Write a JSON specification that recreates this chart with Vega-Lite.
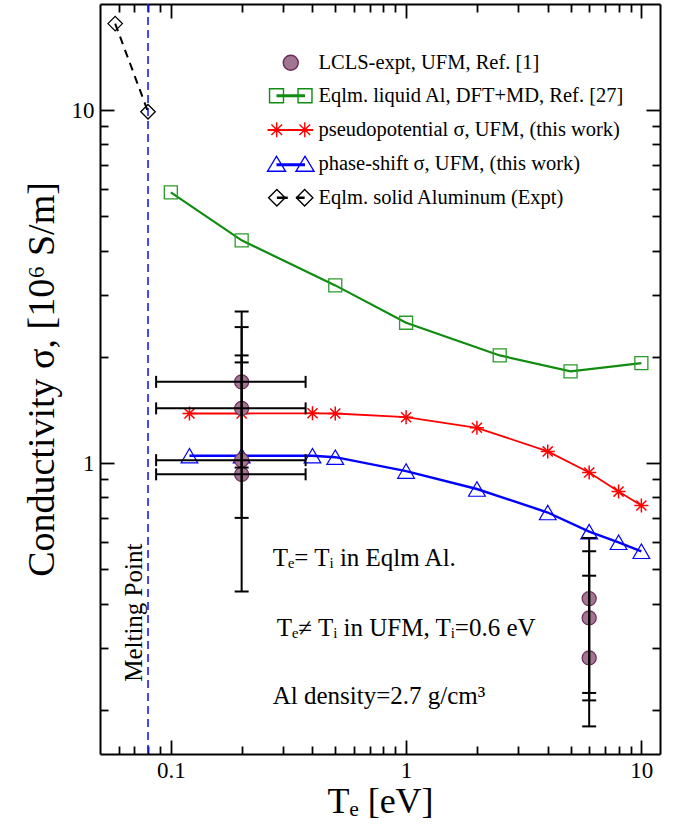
{
  "$schema": "https://vega.github.io/schema/vega-lite/v6.json",
  "width": 560,
  "height": 750,
  "autosize": {"type": "none"},
  "padding": {"left": 100, "top": 4, "right": 29, "bottom": 76},
  "background": "white",
  "config": {
    "view": {"stroke": null},
    "font": "Liberation Serif",
    "axis": {
      "grid": false,
      "domainColor": "black",
      "domainWidth": 2,
      "tickColor": "black",
      "tickWidth": 1.8,
      "labelFont": "Liberation Serif",
      "labelFontSize": 23,
      "labelColor": "black",
      "titleFont": "Liberation Serif",
      "titleFontWeight": "normal",
      "titleColor": "black",
      "titleFontSize": 36
    },
    "legend": {"labelFont": "Liberation Serif", "labelFontSize": 20.5, "labelColor": "black", "labelLimit": 500}
  },
  "datasets": {
    "pts": [
      {"series": "Eqlm. liquid Al, DFT+MD, Ref. [27]", "Te": 0.1, "sigma": 5.85},
      {"series": "Eqlm. liquid Al, DFT+MD, Ref. [27]", "Te": 0.2, "sigma": 4.28},
      {"series": "Eqlm. liquid Al, DFT+MD, Ref. [27]", "Te": 0.5, "sigma": 3.19},
      {"series": "Eqlm. liquid Al, DFT+MD, Ref. [27]", "Te": 1, "sigma": 2.5},
      {"series": "Eqlm. liquid Al, DFT+MD, Ref. [27]", "Te": 2.5, "sigma": 2.02},
      {"series": "Eqlm. liquid Al, DFT+MD, Ref. [27]", "Te": 5, "sigma": 1.82},
      {"series": "Eqlm. liquid Al, DFT+MD, Ref. [27]", "Te": 10, "sigma": 1.92},
      {"series": "pseudopotential σ, UFM, (this work)", "Te": 0.12, "sigma": 1.383},
      {"series": "pseudopotential σ, UFM, (this work)", "Te": 0.2, "sigma": 1.383},
      {"series": "pseudopotential σ, UFM, (this work)", "Te": 0.4, "sigma": 1.385},
      {"series": "pseudopotential σ, UFM, (this work)", "Te": 0.5, "sigma": 1.383},
      {"series": "pseudopotential σ, UFM, (this work)", "Te": 1, "sigma": 1.35},
      {"series": "pseudopotential σ, UFM, (this work)", "Te": 2, "sigma": 1.26},
      {"series": "pseudopotential σ, UFM, (this work)", "Te": 4, "sigma": 1.08},
      {"series": "pseudopotential σ, UFM, (this work)", "Te": 6, "sigma": 0.941},
      {"series": "pseudopotential σ, UFM, (this work)", "Te": 8, "sigma": 0.831},
      {"series": "pseudopotential σ, UFM, (this work)", "Te": 10, "sigma": 0.759},
      {"series": "phase-shift σ,  UFM, (this work)", "Te": 0.12, "sigma": 1.05},
      {"series": "phase-shift σ,  UFM, (this work)", "Te": 0.2, "sigma": 1.05},
      {"series": "phase-shift σ,  UFM, (this work)", "Te": 0.4, "sigma": 1.05},
      {"series": "phase-shift σ,  UFM, (this work)", "Te": 0.5, "sigma": 1.04},
      {"series": "phase-shift σ,  UFM, (this work)", "Te": 1, "sigma": 0.95},
      {"series": "phase-shift σ,  UFM, (this work)", "Te": 2, "sigma": 0.845},
      {"series": "phase-shift σ,  UFM, (this work)", "Te": 4, "sigma": 0.725},
      {"series": "phase-shift σ,  UFM, (this work)", "Te": 6, "sigma": 0.64},
      {"series": "phase-shift σ,  UFM, (this work)", "Te": 8, "sigma": 0.597},
      {"series": "phase-shift σ,  UFM, (this work)", "Te": 10, "sigma": 0.563},
      {"series": "Eqlm. solid Aluminum (Expt)", "Te": 0.058, "sigma": 17.6},
      {"series": "Eqlm. solid Aluminum (Expt)", "Te": 0.08, "sigma": 9.9},
      {"series": "LCLS-expt,  UFM, Ref. [1]", "Te": 0.2, "sigma": 1.7, "lo": 0.7, "hi": 2.69, "xlo": 0.0866, "xhi": 0.374},
      {"series": "LCLS-expt,  UFM, Ref. [1]", "Te": 0.2, "sigma": 1.43, "lo": 0.433, "hi": 2.43, "xlo": 0.0866, "xhi": 0.374},
      {"series": "LCLS-expt,  UFM, Ref. [1]", "Te": 0.2, "sigma": 1.02, "lo": 0.972, "hi": 2.02, "xlo": 0.0866, "xhi": 0.374},
      {"series": "LCLS-expt,  UFM, Ref. [1]", "Te": 0.2, "sigma": 0.93, "lo": null, "hi": 1.93, "xlo": 0.0866, "xhi": 0.374},
      {"series": "LCLS-expt,  UFM, Ref. [1]", "Te": 6, "sigma": 0.4135, "lo": 0.2128, "hi": 0.614, "xlo": null, "xhi": null},
      {"series": "LCLS-expt,  UFM, Ref. [1]", "Te": 6, "sigma": 0.3645, "lo": 0.1796, "hi": 0.563, "xlo": null, "xhi": null},
      {"series": "LCLS-expt,  UFM, Ref. [1]", "Te": 6, "sigma": 0.2807, "lo": 0.2234, "hi": 0.48, "xlo": null, "xhi": null}
    ],
    "notes": [
      {"t": "Tₑ= Tᵢ in Eqlm Al.", "Te": 0.271, "sigma": 0.5105},
      {"t": "Tₑ≠ Tᵢ in UFM,  Tᵢ=0.6 eV", "Te": 0.2818, "sigma": 0.3232},
      {"t": "Al density=2.7 g/cm³", "Te": 0.271, "sigma": 0.2078}
    ],
    "melt": [
      {"t": "Melting Point", "Te": 0.08, "tx": 0.0753, "ty": 0.377}
    ]
  },
  "layer": [
    {
      "data": {"name": "melt"},
      "mark": {"type": "rule", "color": "#1a1aff", "strokeWidth": 1.6, "strokeDash": [8, 5]},
      "encoding": {
        "x": {"field": "Te", "type": "quantitative", "scale": {"type": "log", "domain": [0.05, 12], "nice": false}, "axis": null}
      }
    },
    {
      "data": {"name": "melt"},
      "mark": {"type": "text", "angle": 270, "align": "center", "baseline": "alphabetic", "font": "Liberation Serif", "fontSize": 25, "color": "black"},
      "encoding": {
        "x": {"field": "tx", "type": "quantitative", "scale": {"type": "log", "domain": [0.05, 12], "nice": false}, "axis": null},
        "y": {"field": "ty", "type": "quantitative", "scale": {"type": "log", "domain": [0.15, 20], "nice": false}, "axis": null},
        "text": {"field": "t"}
      }
    },
    {
      "data": {"name": "pts"},
      "transform": [{"filter": "datum.series === 'Eqlm. liquid Al, DFT+MD, Ref. [27]'"}],
      "mark": {"type": "line", "color": "#108c10", "strokeWidth": 2.2},
      "encoding": {
        "x": {"field": "Te", "type": "quantitative", "scale": {"type": "log", "domain": [0.05, 12], "nice": false},
          "axis": {"orient": "bottom", "values": [0.1, 1, 10], "format": "~g", "ticks": false, "domain": true, "labelFont": "Liberation Serif", "labelPadding": 5, "labelFlush": false, "labelOverlap": false, "title": "Tₑ [eV]", "titlePadding": 2}},
        "y": {"field": "sigma", "type": "quantitative", "scale": {"type": "log", "domain": [0.15, 20], "nice": false},
          "axis": {"orient": "left", "values": [1, 10], "format": "~g", "ticks": false, "domain": true, "labelFont": "Liberation Serif", "labelPadding": 6, "labelFlush": false, "labelOverlap": false, "title": "Conductivity σ,  [10⁶ S/m]", "titleFontSize": 38, "titlePadding": 10}}
      }
    },
    {
      "data": {"name": "pts"},
      "transform": [{"filter": "datum.series === 'pseudopotential σ, UFM, (this work)'"}],
      "mark": {"type": "line", "color": "#ff0000", "strokeWidth": 1.8},
      "encoding": {
        "x": {"field": "Te", "type": "quantitative", "scale": {"type": "log", "domain": [0.05, 12], "nice": false},
          "axis": {"orient": "bottom", "values": [0.1, 1, 10], "tickSize": -14, "labels": false, "domain": false, "title": null}},
        "y": {"field": "sigma", "type": "quantitative", "scale": {"type": "log", "domain": [0.15, 20], "nice": false},
          "axis": {"orient": "left", "values": [1, 10], "tickSize": -14, "labels": false, "domain": false, "title": null}}
      }
    },
    {
      "data": {"name": "pts"},
      "transform": [{"filter": "datum.series === 'phase-shift σ,  UFM, (this work)'"}],
      "mark": {"type": "line", "color": "#0000ff", "strokeWidth": 2.4},
      "encoding": {
        "x": {"field": "Te", "type": "quantitative", "scale": {"type": "log", "domain": [0.05, 12], "nice": false},
          "axis": {"orient": "bottom", "values": [0.06, 0.07, 0.08, 0.09, 0.2, 0.3, 0.4, 0.5, 0.6, 0.7, 0.8, 0.9, 2, 3, 4, 5, 6, 7, 8, 9], "tickSize": -8, "labels": false, "domain": false, "title": null}},
        "y": {"field": "sigma", "type": "quantitative", "scale": {"type": "log", "domain": [0.15, 20], "nice": false},
          "axis": {"orient": "left", "values": [0.2, 0.3, 0.4, 0.5, 0.6, 0.7, 0.8, 0.9, 2, 3, 4, 5, 6, 7, 8, 9], "tickSize": -8, "labels": false, "domain": false, "title": null}}
      }
    },
    {
      "data": {"name": "pts"},
      "transform": [{"filter": "datum.series === 'Eqlm. solid Aluminum (Expt)'"}],
      "mark": {"type": "line", "color": "black", "strokeWidth": 2, "strokeDash": [8, 6]},
      "encoding": {
        "x": {"field": "Te", "type": "quantitative", "scale": {"type": "log", "domain": [0.05, 12], "nice": false},
          "axis": {"orient": "top", "values": [0.1, 1, 10], "tickSize": -14, "labels": false, "domain": true, "title": null}},
        "y": {"field": "sigma", "type": "quantitative", "scale": {"type": "log", "domain": [0.15, 20], "nice": false},
          "axis": {"orient": "right", "values": [1, 10], "tickSize": -14, "labels": false, "domain": true, "title": null}}
      }
    },
    {
      "data": {"name": "pts"},
      "transform": [{"filter": "datum.series === 'Eqlm. liquid Al, DFT+MD, Ref. [27]'"}],
      "mark": {"type": "point", "shape": "square", "filled": false, "stroke": "#2a9a2a", "strokeWidth": 1.3, "size": 169, "opacity": 1},
      "encoding": {
        "x": {"field": "Te", "type": "quantitative", "scale": {"type": "log", "domain": [0.05, 12], "nice": false},
          "axis": {"orient": "top", "values": [0.06, 0.07, 0.08, 0.09, 0.2, 0.3, 0.4, 0.5, 0.6, 0.7, 0.8, 0.9, 2, 3, 4, 5, 6, 7, 8, 9], "tickSize": -8, "labels": false, "domain": false, "title": null}},
        "y": {"field": "sigma", "type": "quantitative", "scale": {"type": "log", "domain": [0.15, 20], "nice": false},
          "axis": {"orient": "right", "values": [0.2, 0.3, 0.4, 0.5, 0.6, 0.7, 0.8, 0.9, 2, 3, 4, 5, 6, 7, 8, 9], "tickSize": -8, "labels": false, "domain": false, "title": null}}
      }
    },
    {
      "data": {"name": "pts"},
      "transform": [{"filter": "datum.series === 'pseudopotential σ, UFM, (this work)'"}],
      "mark": {"type": "point", "shape": "M0,-1V1M-1,0H1M-0.72,-0.72L0.72,0.72M-0.72,0.72L0.72,-0.72", "filled": false, "stroke": "#ff0000", "strokeWidth": 1.5, "size": 196, "opacity": 1},
      "encoding": {
        "x": {"field": "Te", "type": "quantitative", "scale": {"type": "log", "domain": [0.05, 12], "nice": false}, "axis": null},
        "y": {"field": "sigma", "type": "quantitative", "scale": {"type": "log", "domain": [0.15, 20], "nice": false}, "axis": null}
      }
    },
    {
      "data": {"name": "pts"},
      "transform": [{"filter": "datum.series === 'phase-shift σ,  UFM, (this work)'"}],
      "mark": {"type": "point", "shape": "triangle-up", "filled": false, "stroke": "#0000ff", "strokeWidth": 1.2, "size": 280, "opacity": 1},
      "encoding": {
        "x": {"field": "Te", "type": "quantitative", "scale": {"type": "log", "domain": [0.05, 12], "nice": false}, "axis": null},
        "y": {"field": "sigma", "type": "quantitative", "scale": {"type": "log", "domain": [0.15, 20], "nice": false}, "axis": null}
      }
    },
    {
      "data": {"name": "pts"},
      "transform": [{"filter": "datum.series === 'Eqlm. solid Aluminum (Expt)'"}],
      "mark": {"type": "point", "shape": "diamond", "filled": false, "stroke": "black", "strokeWidth": 1.3, "size": 210, "opacity": 1},
      "encoding": {
        "x": {"field": "Te", "type": "quantitative", "scale": {"type": "log", "domain": [0.05, 12], "nice": false}, "axis": null},
        "y": {"field": "sigma", "type": "quantitative", "scale": {"type": "log", "domain": [0.15, 20], "nice": false}, "axis": null}
      }
    },
    {
      "data": {"name": "pts"},
      "transform": [{"filter": "datum.series === 'LCLS-expt,  UFM, Ref. [1]'"}],
      "mark": {"type": "point", "shape": "circle", "filled": true, "fill": "#a27690", "stroke": "#6e2a58", "strokeWidth": 1.2, "size": 200, "opacity": 1},
      "encoding": {
        "x": {"field": "Te", "type": "quantitative", "scale": {"type": "log", "domain": [0.05, 12], "nice": false}, "axis": null},
        "y": {"field": "sigma", "type": "quantitative", "scale": {"type": "log", "domain": [0.15, 20], "nice": false}, "axis": null}
      }
    },
    {
      "data": {"name": "pts"},
      "transform": [{"filter": "datum.series === 'LCLS-expt,  UFM, Ref. [1]' && isValid(datum.lo)"}],
      "mark": {"type": "rule", "color": "black", "strokeWidth": 2},
      "encoding": {
        "x": {"field": "Te", "type": "quantitative", "scale": {"type": "log", "domain": [0.05, 12], "nice": false}, "axis": null},
        "y": {"field": "lo", "type": "quantitative", "scale": {"type": "log", "domain": [0.15, 20], "nice": false}, "axis": null},
        "y2": {"field": "hi"}
      }
    },
    {
      "data": {"name": "pts"},
      "transform": [{"filter": "datum.series === 'LCLS-expt,  UFM, Ref. [1]' && isValid(datum.xlo)"}],
      "mark": {"type": "rule", "color": "black", "strokeWidth": 2},
      "encoding": {
        "x": {"field": "xlo", "type": "quantitative", "scale": {"type": "log", "domain": [0.05, 12], "nice": false}, "axis": null},
        "x2": {"field": "xhi"},
        "y": {"field": "sigma", "type": "quantitative", "scale": {"type": "log", "domain": [0.15, 20], "nice": false}, "axis": null}
      }
    },
    {
      "data": {"name": "pts"},
      "transform": [
        {"filter": "datum.series === 'LCLS-expt,  UFM, Ref. [1]'"},
        {"fold": ["lo", "hi"]},
        {"filter": "isValid(datum.value)"}
      ],
      "mark": {"type": "tick", "orient": "horizontal", "color": "black", "size": 14, "thickness": 2, "opacity": 1},
      "encoding": {
        "x": {"field": "Te", "type": "quantitative", "scale": {"type": "log", "domain": [0.05, 12], "nice": false}, "axis": null},
        "y": {"field": "value", "type": "quantitative", "scale": {"type": "log", "domain": [0.15, 20], "nice": false}, "axis": null}
      }
    },
    {
      "data": {"name": "pts"},
      "transform": [
        {"filter": "datum.series === 'LCLS-expt,  UFM, Ref. [1]'"},
        {"fold": ["xlo", "xhi"]},
        {"filter": "isValid(datum.value)"}
      ],
      "mark": {"type": "tick", "orient": "vertical", "color": "black", "size": 12, "thickness": 2, "opacity": 1},
      "encoding": {
        "x": {"field": "value", "type": "quantitative", "scale": {"type": "log", "domain": [0.05, 12], "nice": false}, "axis": null},
        "y": {"field": "sigma", "type": "quantitative", "scale": {"type": "log", "domain": [0.15, 20], "nice": false}, "axis": null}
      }
    },
    {
      "data": {"name": "notes"},
      "mark": {"type": "text", "align": "left", "baseline": "alphabetic", "font": "Liberation Serif", "fontSize": 25, "color": "black"},
      "encoding": {
        "x": {"field": "Te", "type": "quantitative", "scale": {"type": "log", "domain": [0.05, 12], "nice": false}, "axis": null},
        "y": {"field": "sigma", "type": "quantitative", "scale": {"type": "log", "domain": [0.15, 20], "nice": false}, "axis": null},
        "text": {"field": "t"}
      }
    },
    {
      "data": {"name": "pts"},
      "mark": {"type": "point", "filled": true, "opacity": 0, "size": 225, "strokeWidth": 1.4},
      "encoding": {
        "x": {"field": "Te", "type": "quantitative", "scale": {"type": "log", "domain": [0.05, 12], "nice": false}, "axis": null},
        "y": {"field": "sigma", "type": "quantitative", "scale": {"type": "log", "domain": [0.15, 20], "nice": false}, "axis": null},
        "shape": {"field": "series", "type": "nominal",
          "scale": {"domain": ["LCLS-expt,  UFM, Ref. [1]", "Eqlm. liquid Al, DFT+MD, Ref. [27]", "pseudopotential σ, UFM, (this work)", "phase-shift σ,  UFM, (this work)", "Eqlm. solid Aluminum (Expt)"],
            "range": ["circle",
              "M-2.83,-0.93H-0.97V0.93H-2.83Z M0.97,-0.93H2.83V0.93H0.97Z M-1.9,0H1.9 M-1.9,-0.1H1.9 M-1.9,0.1H1.9",
              "M-3.1,0H3 M-3.1,0.07H3 M-1.87,-1V1 M-2.58,-0.71L-1.16,0.71 M-2.58,0.71L-1.16,-0.71 M1.87,-1V1 M1.16,-0.71L2.58,0.71 M1.16,0.71L2.58,-0.71",
              "M-3.1,1L-1.9,-1L-0.7,1Z M0.7,1L1.9,-1L3.1,1Z M-1.9,0.03H1.9 M-1.9,0.13H1.9 M-1.9,0.23H1.9",
              "M-2.95,0L-1.85,-1.1L-0.75,0L-1.85,1.1Z M0.75,0L1.85,-1.1L2.95,0L1.85,1.1Z M-1.85,-0.07H-0.4 M-1.85,0.07H-0.4 M0.7,-0.07H1.85 M0.7,0.07H1.85"]},
          "legend": {"title": null, "orient": "none", "legendX": 180.5, "legendY": 48.5, "symbolSize": 225, "symbolStrokeWidth": 1.4, "symbolOpacity": 1, "labelFont": "Liberation Serif", "labelFontSize": 20.5, "labelColor": "black", "labelLimit": 500, "labelOffset": 17.5, "rowPadding": 12, "padding": 0}},
        "stroke": {"field": "series", "type": "nominal",
          "scale": {"domain": ["LCLS-expt,  UFM, Ref. [1]", "Eqlm. liquid Al, DFT+MD, Ref. [27]", "pseudopotential σ, UFM, (this work)", "phase-shift σ,  UFM, (this work)", "Eqlm. solid Aluminum (Expt)"],
            "range": ["#6e2a58", "#108c10", "#ff0000", "#0000ff", "#000000"]},
          "legend": {"title": null, "orient": "none", "legendX": 180.5, "legendY": 48.5, "symbolSize": 225, "symbolStrokeWidth": 1.4, "symbolOpacity": 1, "labelFont": "Liberation Serif", "labelFontSize": 20.5, "labelColor": "black", "labelLimit": 500, "labelOffset": 17.5, "rowPadding": 12, "padding": 0}},
        "fill": {"field": "series", "type": "nominal",
          "scale": {"domain": ["LCLS-expt,  UFM, Ref. [1]", "Eqlm. liquid Al, DFT+MD, Ref. [27]", "pseudopotential σ, UFM, (this work)", "phase-shift σ,  UFM, (this work)", "Eqlm. solid Aluminum (Expt)"],
            "range": ["#a27690", "transparent", "transparent", "transparent", "transparent"]},
          "legend": {"title": null, "orient": "none", "legendX": 180.5, "legendY": 48.5, "symbolSize": 225, "symbolStrokeWidth": 1.4, "symbolOpacity": 1, "labelFont": "Liberation Serif", "labelFontSize": 20.5, "labelColor": "black", "labelLimit": 500, "labelOffset": 17.5, "rowPadding": 12, "padding": 0}}
      }
    }
  ],
  "resolve": {"axis": {"x": "independent", "y": "independent"}}
}
